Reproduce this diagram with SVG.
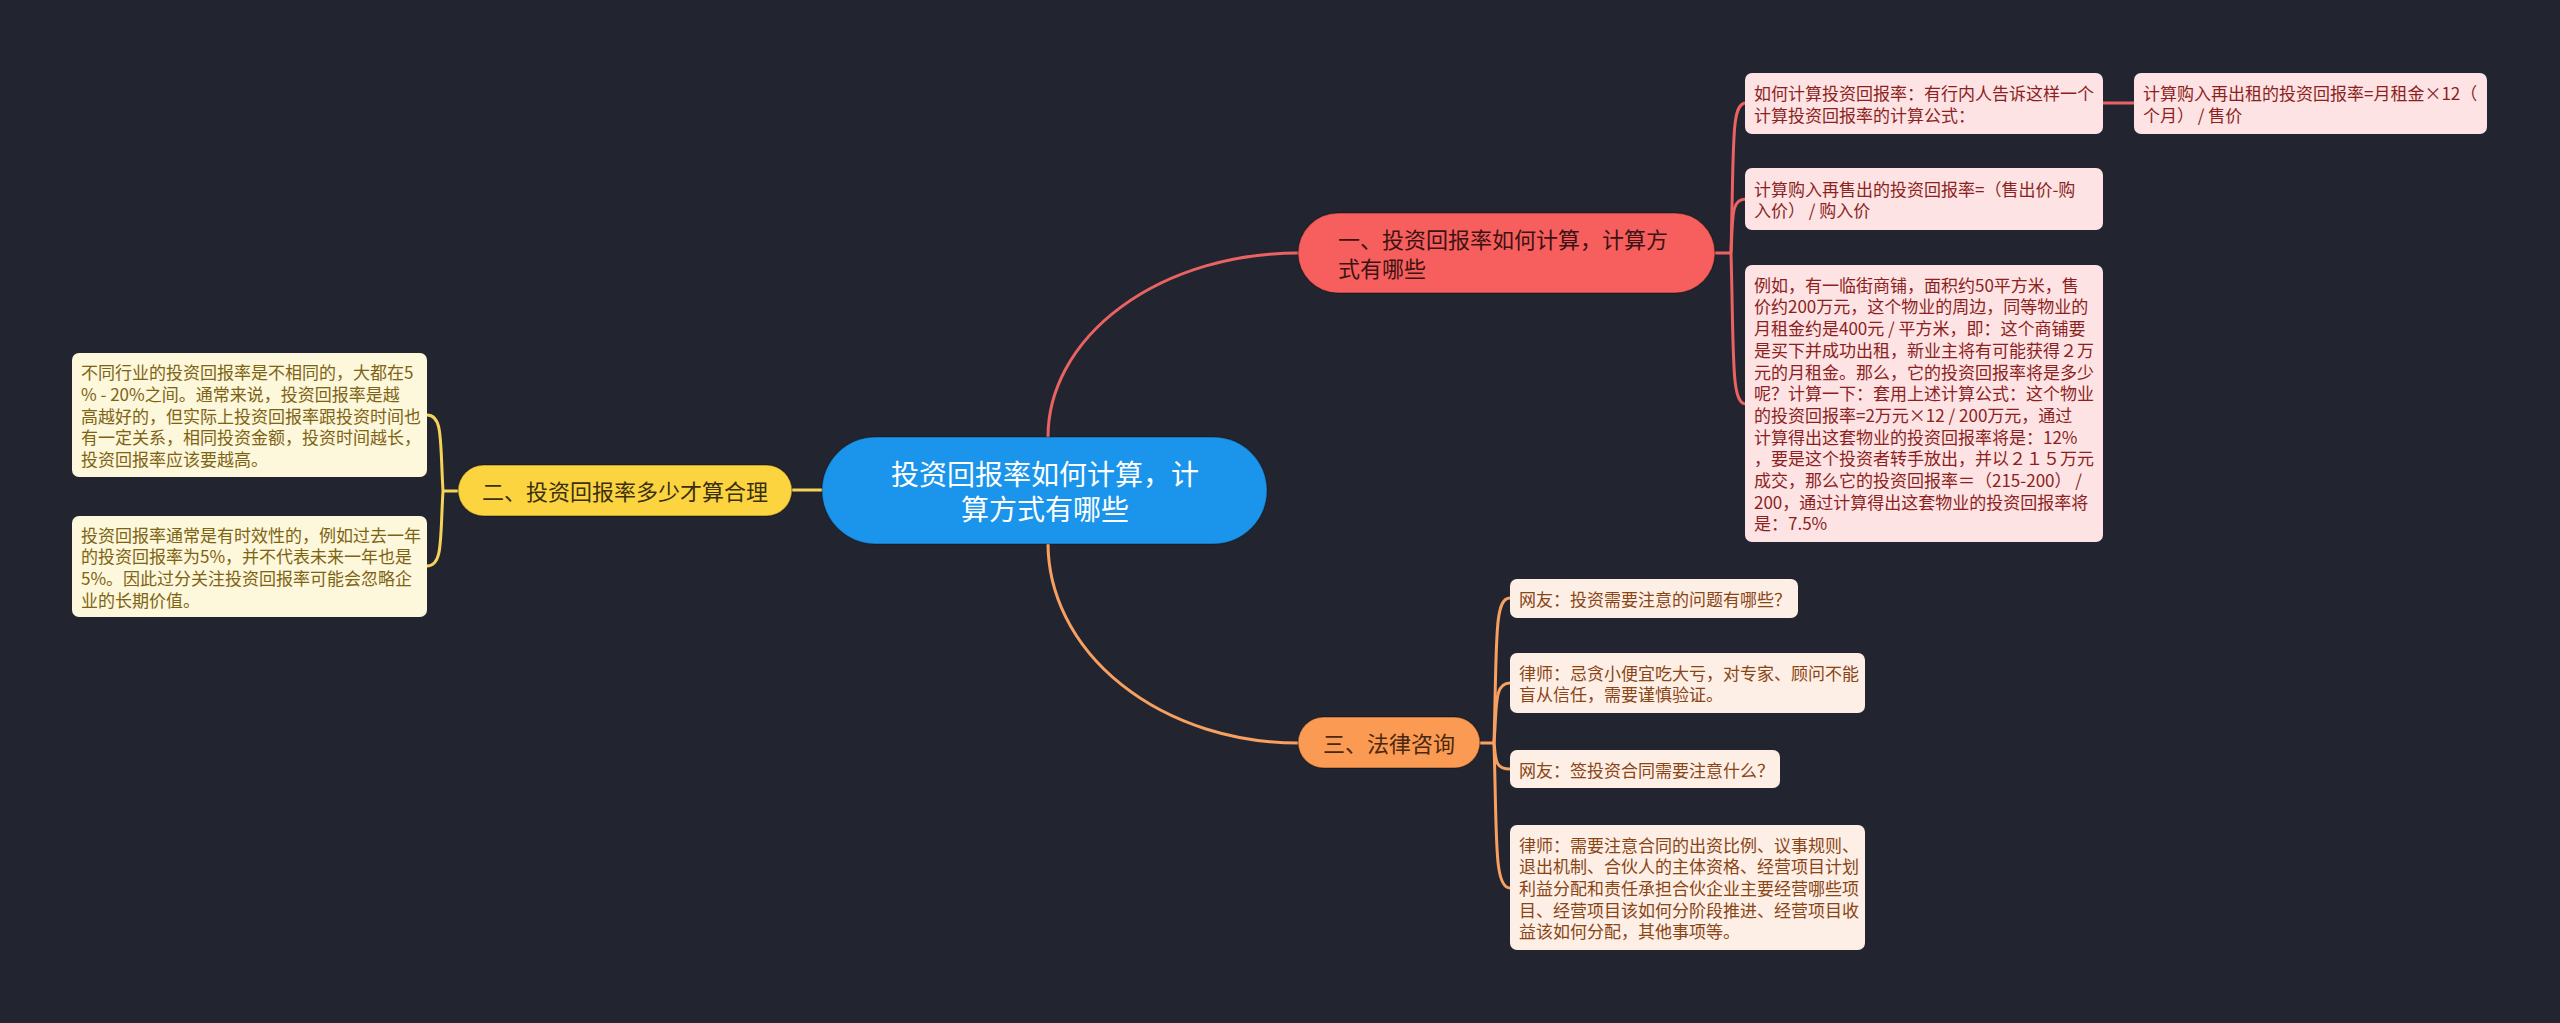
<svg xmlns="http://www.w3.org/2000/svg" width="2560" height="1023" viewBox="0 0 2560 1023">
<style>
text{font-family:"Noto Sans CJK SC","Noto Sans",sans-serif;dominant-baseline:central}
.leaf{font-size:17px}
.lr rect{fill:#fde3e3}
.lr text{fill:#8c1f1f}
.ly rect{fill:#fdf7dc}
.ly text{fill:#7d6413}
.lo rect{fill:#fdefe5}
.lo text{fill:#8a4516}
.mt{font-size:22px}
.cr{fill:none;stroke:#ea6262;stroke-width:3}
.cy{fill:none;stroke:#f5d25a;stroke-width:3}
.co{fill:none;stroke:#f8a060;stroke-width:3}
</style>
<rect x="0" y="0" width="2560" height="1023" fill="#222530"/>
<g id="connectors">
<path class="cr" d="M1048,437 A250,184 0 0 1 1298,253"/>
<path class="co" d="M1048,543 A250,200 0 0 0 1298,743"/>
<path class="cy" d="M792,490 L823,490"/>
<path class="cr" d="M1715,253 L1731,253"/>
<path class="cr" d="M1731,253 C1734,140 1731,103 1746,103"/>
<path class="cr" d="M1731,253 C1733,215 1731,199 1746,199"/>
<path class="cr" d="M1731,253 C1734,360 1731,404 1746,404"/>
<path class="cr" d="M2103,103 L2134,103"/>
<path class="cy" d="M458,491 L443,491"/>
<path class="cy" d="M443,491 C440,440 443,415 427,415"/>
<path class="cy" d="M443,491 C440,540 443,566 427,566"/>
<path class="co" d="M1480,743 L1494,743"/>
<path class="co" d="M1494,743 C1497,640 1494,598 1510,598"/>
<path class="co" d="M1494,743 C1497,705 1494,683 1510,683"/>
<path class="co" d="M1494,743 C1496,758 1494,769 1510,769"/>
<path class="co" d="M1494,743 C1497,840 1494,888 1510,888"/>
</g>
<g id="center">
<rect x="822" y="437" width="445" height="107" rx="53.5" fill="#1b95eb" stroke="rgba(0,0,0,0.25)" stroke-width="1.5"/>
<text x="1045" y="473" font-size="28" fill="#ffffff" text-anchor="middle">投资回报率如何计算，计</text>
<text x="1045" y="508" font-size="28" fill="#ffffff" text-anchor="middle">算方式有哪些</text>
</g>
<g id="node1">
<rect x="1298" y="213" width="417" height="80" rx="40" fill="#f65f5d" stroke="rgba(0,0,0,0.3)" stroke-width="1.5"/>
<text class="mt" x="1338" y="238" fill="#3d1212">一、投资回报率如何计算，计算方</text>
<text class="mt" x="1338" y="267" fill="#3d1212">式有哪些</text>
</g>
<g id="node2">
<rect x="458" y="465" width="334" height="51" rx="25.5" fill="#fcd440" stroke="rgba(0,0,0,0.3)" stroke-width="1.5"/>
<text class="mt" x="625" y="490" fill="#3a3010" text-anchor="middle">二、投资回报率多少才算合理</text>
</g>
<g id="node3">
<rect x="1298" y="717" width="182" height="51" rx="25.5" fill="#fb9a52" stroke="rgba(0,0,0,0.3)" stroke-width="1.5"/>
<text class="mt" x="1389" y="742" fill="#4a2810" text-anchor="middle">三、法律咨询</text>
</g>
<g id="leaf1" class="leaf lr">
<rect x="1745" y="73" width="358" height="61" rx="7"/>
<text x="1754" y="92.6">如何计算投资回报率：有行内人告诉这样一个</text>
<text x="1754" y="114.3">计算投资回报率的计算公式：</text>
</g>
<g id="leaf1a" class="leaf lr">
<rect x="2134" y="73" width="353" height="61" rx="7"/>
<text x="2143" y="92.6">计算购入再出租的投资回报率=月租金×12（</text>
<text x="2143" y="114.3">个月） / 售价</text>
</g>
<g id="leaf2" class="leaf lr">
<rect x="1745" y="168" width="358" height="62" rx="7"/>
<text x="1754" y="188.2">计算购入再售出的投资回报率=（售出价-购</text>
<text x="1754" y="209.8">入价） / 购入价</text>
</g>
<g id="leaf3" class="leaf lr">
<rect x="1745" y="265" width="358" height="277" rx="7"/>
<text x="1754" y="284.2">例如，有一临街商铺，面积约50平方米，售</text>
<text x="1754" y="305.9">价约200万元，这个物业的周边，同等物业的</text>
<text x="1754" y="327.6">月租金约是400元 / 平方米，即：这个商铺要</text>
<text x="1754" y="349.3">是买下并成功出租，新业主将有可能获得２万</text>
<text x="1754" y="371.0">元的月租金。那么，它的投资回报率将是多少</text>
<text x="1754" y="392.7">呢？计算一下：套用上述计算公式：这个物业</text>
<text x="1754" y="414.4">的投资回报率=2万元×12 / 200万元，通过</text>
<text x="1754" y="436.1">计算得出这套物业的投资回报率将是：12%</text>
<text x="1754" y="457.8">，要是这个投资者转手放出，并以２１５万元</text>
<text x="1754" y="479.5">成交，那么它的投资回报率＝（215-200） /</text>
<text x="1754" y="501.2">200，通过计算得出这套物业的投资回报率将</text>
<text x="1754" y="522.9">是：7.5%</text>
</g>
<g id="leaf4" class="leaf ly">
<rect x="72" y="353" width="355" height="124" rx="7"/>
<text x="81" y="371.6">不同行业的投资回报率是不相同的，大都在5</text>
<text x="81" y="393.3">% - 20%之间。通常来说，投资回报率是越</text>
<text x="81" y="415.0">高越好的，但实际上投资回报率跟投资时间也</text>
<text x="81" y="436.7">有一定关系，相同投资金额，投资时间越长，</text>
<text x="81" y="458.4">投资回报率应该要越高。</text>
</g>
<g id="leaf5" class="leaf ly">
<rect x="72" y="516" width="355" height="101" rx="7"/>
<text x="81" y="534">投资回报率通常是有时效性的，例如过去一年</text>
<text x="81" y="555.7">的投资回报率为5%，并不代表未来一年也是</text>
<text x="81" y="577.4">5%。因此过分关注投资回报率可能会忽略企</text>
<text x="81" y="599.1">业的长期价值。</text>
</g>
<g id="leaf6" class="leaf lo">
<rect x="1510" y="579" width="288" height="39" rx="7"/>
<text x="1519" y="598.5">网友：投资需要注意的问题有哪些？</text>
</g>
<g id="leaf7" class="leaf lo">
<rect x="1510" y="653" width="355" height="60" rx="7"/>
<text x="1519" y="672.2">律师：忌贪小便宜吃大亏，对专家、顾问不能</text>
<text x="1519" y="693.8">盲从信任，需要谨慎验证。</text>
</g>
<g id="leaf8" class="leaf lo">
<rect x="1510" y="750" width="270" height="38" rx="7"/>
<text x="1519" y="769">网友：签投资合同需要注意什么？</text>
</g>
<g id="leaf9" class="leaf lo">
<rect x="1510" y="825" width="355" height="125" rx="7"/>
<text x="1519" y="844.1">律师：需要注意合同的出资比例、议事规则、</text>
<text x="1519" y="865.8">退出机制、合伙人的主体资格、经营项目计划</text>
<text x="1519" y="887.5">利益分配和责任承担合伙企业主要经营哪些项</text>
<text x="1519" y="909.2">目、经营项目该如何分阶段推进、经营项目收</text>
<text x="1519" y="930.9">益该如何分配，其他事项等。</text>
</g>
</svg>
